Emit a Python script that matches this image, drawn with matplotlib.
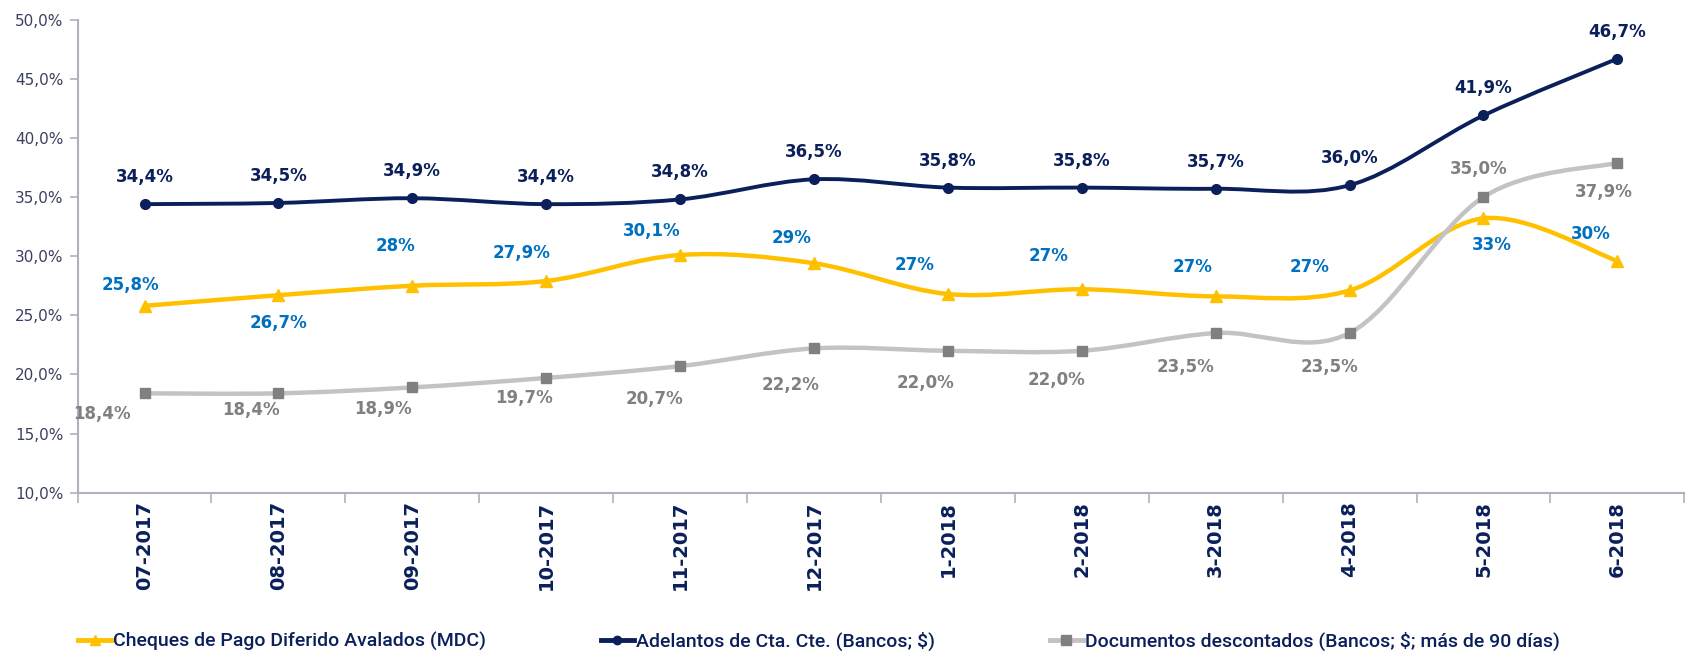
import numpy as np
import matplotlib
matplotlib.use("Agg")
import matplotlib.pyplot as plt
from matplotlib.path import Path
from matplotlib.patches import PathPatch
from matplotlib.lines import Line2D

# data
meses = ["07-2017", "08-2017", "09-2017", "10-2017", "11-2017", "12-2017",
         "1-2018", "2-2018", "3-2018", "4-2018", "5-2018", "6-2018"]

cheques = [25.8, 26.7, 27.5, 27.9, 30.1, 29.4, 26.8, 27.2, 26.6, 27.1, 33.2, 29.6]
cheques_lbl = ["25,8%", "26,7%", "28%", "27,9%", "30,1%", "29%",
               "27%", "27%", "27%", "27%", "33%", "30%"]

adelantos = [34.4, 34.5, 34.9, 34.4, 34.8, 36.5, 35.8, 35.8, 35.7, 36.0, 41.9, 46.7]
adelantos_lbl = ["34,4%", "34,5%", "34,9%", "34,4%", "34,8%", "36,5%",
                 "35,8%", "35,8%", "35,7%", "36,0%", "41,9%", "46,7%"]

documentos = [18.4, 18.4, 18.9, 19.7, 20.7, 22.2, 22.0, 22.0, 23.5, 23.5, 35.0, 37.9]
documentos_lbl = ["18,4%", "18,4%", "18,9%", "19,7%", "20,7%", "22,2%",
                  "22,0%", "22,0%", "23,5%", "23,5%", "35,0%", "37,9%"]

y_ticks = [10, 15, 20, 25, 30, 35, 40, 45, 50]

AMARILLO = "#FFC000"
AZUL_LBL = "#0070C0"
NAVY = "#0B1F5B"
GRIS_LINEA = "#C3C3C3"
GRIS = "#808080"
EJE = "#3B4060"

# label offsets in pixels (dx, dy)
off_cheques = [(-14, 21), (0, -28), (-17, 40), (-25, 28), (-28, 24), (-22, 25),
               (-33, 29), (-33, 33), (-23, 29), (-40, 23), (8, -27), (-27, 27)]
off_adel = [(0, 27)] * 12
off_doc = [(-43, -21), (-27, -17), (-29, -22), (-22, -20), (-26, -33), (-23, -37),
           (-22, -32), (-25, -29), (-30, -34), (-20, -34), (-5, 28), (-14, -29)]


def smooth_path(xs, ys):
    # excel-like smoothed line, catmull-rom as cubic bezier
    pts = np.column_stack([xs, ys]).astype(float)
    n = len(pts)
    verts = [pts[0]]
    codes = [Path.MOVETO]
    for i in range(n - 1):
        p0 = pts[i - 1] if i > 0 else pts[i]
        p1 = pts[i]
        p2 = pts[i + 1]
        p3 = pts[i + 2] if i + 2 < n else pts[i + 1]
        c1 = p1 + (p2 - p0) / 6.0
        c2 = p2 - (p3 - p1) / 6.0
        verts += [c1, c2, p2]
        codes += [Path.CURVE4] * 3
    return Path(verts, codes)


fig = plt.figure(figsize=(16.86, 6.56), dpi=100)
ax = fig.add_axes([0.046, 0.249, 0.953, 0.721])

x = np.arange(len(meses))

series = [
    (cheques, cheques_lbl, off_cheques, AMARILLO, AMARILLO, "^", 9, AZUL_LBL, 3.2),
    (adelantos, adelantos_lbl, off_adel, NAVY, NAVY, "o", 7, NAVY, 2.8),
    (documentos, documentos_lbl, off_doc, GRIS_LINEA, GRIS, "s", 7.5, GRIS, 3.2),
]

for z, (vals, lbls, offs, lc, mc, mk, ms, tc, lw) in enumerate(series):
    patch = PathPatch(smooth_path(x, vals), fill=False, edgecolor=lc,
                      linewidth=lw, zorder=2 + z, capstyle="round")
    ax.add_patch(patch)
    ax.plot(x, vals, linestyle="none", marker=mk, markersize=ms,
            color=mc, zorder=2.5 + z)
    for xi, v, t, (dx, dy) in zip(x, vals, lbls, offs):
        ax.annotate(t, (xi, v), xytext=(dx, dy), textcoords="offset pixels",
                    ha="center", va="center", fontsize=12, fontweight="bold",
                    color=tc, zorder=10)

ax.set_xlim(-0.5, len(meses) - 0.5)
ax.set_ylim(10, 50)
ax.set_yticks(y_ticks)
ax.set_yticklabels([f"{t},0%" for t in y_ticks], fontsize=11, color=EJE)
ax.set_xticks(x)
ax.set_xticklabels(meses, rotation=90, fontsize=14, fontweight="bold",
                   color=NAVY)
ax.set_xticks(np.arange(-0.5, len(meses), 1.0), minor=True)
ax.tick_params(axis="x", which="major", length=0, pad=6)
ax.tick_params(axis="x", which="minor", length=7, color="#B0B0C0", width=1.2)
ax.tick_params(axis="y", length=6, color="#B0B0C0", width=1.2, pad=4)

for s in ["top", "right"]:
    ax.spines[s].set_visible(False)
for s in ["left", "bottom"]:
    ax.spines[s].set_color("#B0B0C0")
    ax.spines[s].set_linewidth(1.5)

handles = [
    Line2D([], [], color=AMARILLO, marker="^", markersize=7, linewidth=3.5),
    Line2D([], [], color=NAVY, marker="o", markersize=6, linewidth=3.5),
    Line2D([], [], color=GRIS_LINEA, marker="s", markersize=7, linewidth=3.5,
           markerfacecolor=GRIS, markeredgecolor=GRIS),
]
names = ["Cheques de Pago Diferido Avalados (MDC)",
         "Adelantos de Cta. Cte. (Bancos; $)",
         "Documentos descontados (Bancos; $; más de 90 días)"]
fig.legend(handles, names, ncol=3, loc="center left",
           bbox_to_anchor=(0.036, 0.022), frameon=False,
           prop={"family": "Roboto", "size": 14, "weight": "medium"},
           handlelength=1.7, handletextpad=0.1, columnspacing=5.9,
           labelcolor=NAVY)

fig.savefig("out.png", dpi=100)
